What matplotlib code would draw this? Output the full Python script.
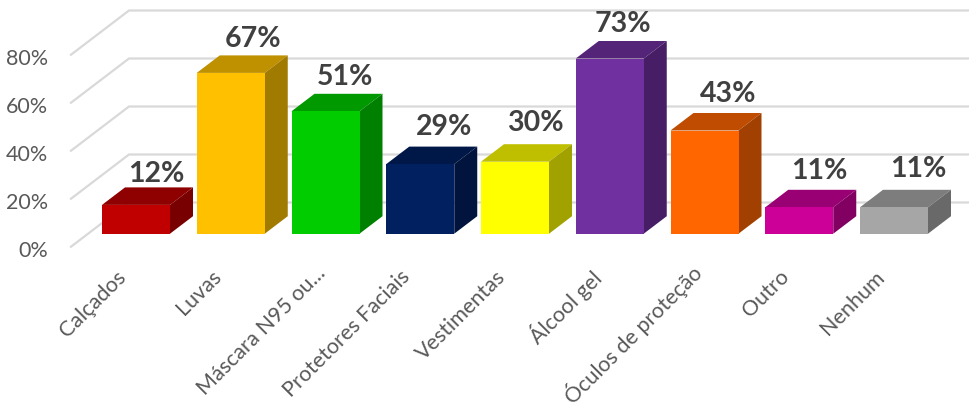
import matplotlib
matplotlib.use('Agg')
import matplotlib.pyplot as plt

categories = ['Calçados', 'Luvas', 'Máscara N95 ou...', 'Protetores Faciais',
              'Vestimentas', 'Álcool gel', 'Óculos de proteção', 'Outro', 'Nenhum']
values = [12, 67, 51, 29, 30, 73, 43, 11, 11]
yticks = [0, 20, 40, 60, 80]

front_colors = ['#C00000', '#FFC000', '#00CC00', '#002060', '#FFFF00',
                '#7030A0', '#FF6600', '#CC0099', '#A6A6A6']
top_colors = ['#8F0000', '#BF9000', '#009900', '#001848', '#BFBF00',
              '#542478', '#BF4C00', '#990073', '#7D7D7D']
side_colors = ['#790000', '#A17A00', '#008000', '#00143D', '#A1A100',
               '#471E65', '#A14000', '#810061', '#696969']

# label offsets from the front top corner of each bar, in pixels
label_dx = [20, 22, 19, 24, 20, 13, 24, 20, 24]
label_dy = [32, 35, 35, 38, 40, 35, 38, 37, 39]

# category label anchors relative to the base of each bar, in pixels
cat_dx = [-20, -20, -10, -20, -20, -20, -15, -20, -20]
cat_dy = [-32, -32, -28, -32, -32, -31, -26, -32, -32]

W, H = 969, 410
PX_X = 94.75   # pixels per category
PX_Y = 2.4     # pixels per percent
X0 = 136       # pixel centre of first bar
Y0 = 234.7     # pixel row of the bars' base

fig = plt.figure(figsize=(W / 100, H / 100), dpi=100)
ax = fig.add_axes([0, 0, 1, 1])
ax.set_xlim(-X0 / PX_X, (W - X0) / PX_X)
ax.set_ylim((Y0 - H) / PX_Y, Y0 / PX_Y)
ax.axis('off')
plt.rcParams['font.family'] = ['Lato', 'DejaVu Sans']

bar_w = 68 / PX_X
depth_x = 23 / PX_X
depth_y = 17.5 / PX_Y

# back wall and floor gridlines
wall_x0 = (71 - X0) / PX_X
wall_x1 = (129 - X0) / PX_X
wall_x2 = (W - X0) / PX_X
front_off = (Y0 - 247.7) / PX_Y
back_off = (Y0 - 203.5) / PX_Y
for t in yticks:
    ax.plot([wall_x0, wall_x1, wall_x2], [t + front_off, t + back_off, t + back_off],
            color='#D9D9D9', lw=1.6, solid_joinstyle='miter', zorder=1)
    ax.text((48 - X0) / PX_X, t + front_off - 1.5, '%d%%' % t, ha='right', va='center',
            fontsize=15.5, color='#595959')

for i, v in enumerate(values):
    l = i - bar_w / 2
    r = i + bar_w / 2
    ax.fill([l, r, r + depth_x, l + depth_x], [v, v, v + depth_y, v + depth_y],
            color=top_colors[i], lw=0, zorder=3)
    ax.fill([r, r + depth_x, r + depth_x, r], [0, depth_y, v + depth_y, v],
            color=side_colors[i], lw=0, zorder=3)
    ax.fill([l, r, r, l], [0, 0, v, v], color=front_colors[i], lw=0, zorder=4)
    ax.annotate('%d%%' % v, (i, v), xytext=(label_dx[i], label_dy[i]),
                textcoords='offset pixels', ha='center', va='center',
                fontsize=20.5, fontweight='bold', color='#404040', zorder=5,
                annotation_clip=False)
    # rotated category label ends just under the bar
    ax.annotate(categories[i], (i, 0), xytext=(cat_dx[i], cat_dy[i]),
                textcoords='offset pixels', rotation=45, rotation_mode='anchor',
                ha='right', va='top', fontsize=15.5, color='#595959')

fig.savefig('out.png', dpi=100)
